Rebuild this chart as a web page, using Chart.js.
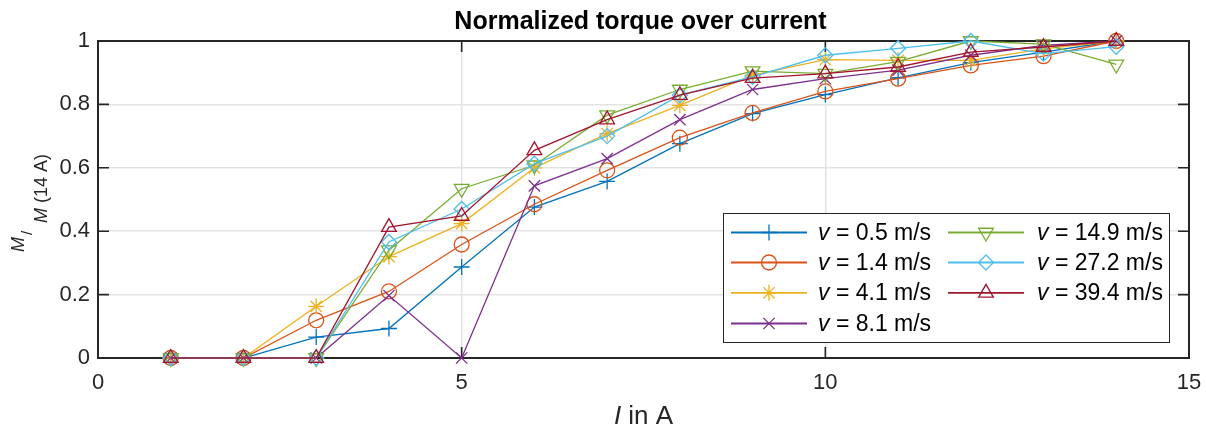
<!DOCTYPE html>
<html>
<head>
<meta charset="utf-8">
<title>Normalized torque over current</title>
<script src="https://cdn.jsdelivr.net/npm/chart.js@4.4.0/dist/chart.umd.min.js"></script>
<style>
  html, body { margin: 0; padding: 0; background: #fff; }
  #wrap { width: 1206px; height: 426px; }
</style>
</head>
<body>
<div id="wrap"><canvas id="torque-chart" width="1206" height="426"></canvas></div>
<script>
// current steps (A)
const currents = [1, 2, 3, 4, 5, 6, 7, 8, 9, 10, 11, 12, 13, 14];

// normalized torque M_I / M(14 A) per wind speed
const torqueV05 = [0, 0, 0.066, 0.093, 0.287, 0.476, 0.557, 0.676, 0.771, 0.831, 0.884, 0.932, 0.965, 1];
const torqueV14 = [0, 0, 0.119, 0.21, 0.358, 0.485, 0.592, 0.695, 0.773, 0.841, 0.881, 0.923, 0.952, 1];
const torqueV41 = [0, 0, 0.163, 0.32, 0.424, 0.6, 0.708, 0.797, 0.892, 0.941, 0.939, 0.939, 0.975, 1];
const torqueV81 = [0, 0, 0, 0.197, 0, 0.543, 0.629, 0.752, 0.847, 0.881, 0.908, 0.955, 0.986, 1];
const torqueV149 = [0, 0, 0, 0.34, 0.534, 0.608, 0.766, 0.847, 0.905, 0.897, 0.935, 1.0, 0.99, 0.926];
const torqueV272 = [0, 0, 0, 0.366, 0.47, 0.613, 0.7, 0.829, 0.887, 0.955, 0.977, 1.0, 0.96, 0.982];
const torqueV394 = [0, 0, 0, 0.413, 0.448, 0.655, 0.752, 0.829, 0.883, 0.897, 0.918, 0.965, 0.981, 1];

const speedLabels = ['0.5', '1.4', '4.1', '8.1', '14.9', '27.2', '39.4'];
const xTicks = [0, 5, 10, 15];
const yTicks = [0, 0.2, 0.4, 0.6, 0.8, 1];

// MATLAB default line colors and markers
const seriesColors = ['#0072BD', '#D95319', '#EDB120', '#7E2F8E', '#77AC30', '#4DBEEE', '#A2142F'];
const seriesMarkers = ['cross', 'circle', 'star', 'crossRot', 'triangle', 'rectRot', 'triangle'];
const markerRadius = [8, 7.5, 8, 8, 8.5, 7.5, 8.5];
const markerRotation = [0, 0, 0, 0, 180, 0, 0];

const allSeries = [torqueV05, torqueV14, torqueV41, torqueV81, torqueV149, torqueV272, torqueV394];

const FONT = '"Liberation Sans", Arial, Helvetica, sans-serif';
const AXIS_COLOR = '#262626';

const datasets = allSeries.map((values, i) => ({
  label: 'v = ' + speedLabels[i] + ' m/s',
  data: currents.map((c, k) => ({ x: c, y: values[k] })),
  borderColor: seriesColors[i],
  borderWidth: 1.3,
  pointStyle: seriesMarkers[i],
  pointRadius: markerRadius[i],
  pointRotation: markerRotation[i],
  pointBorderColor: seriesColors[i],
  pointBackgroundColor: 'rgba(0,0,0,0)',
  pointBorderWidth: 1.3,
  tension: 0,
  clip: false,
  order: allSeries.length - i // last series on top, like MATLAB
}));

// axes box with inward ticks on all four sides
const framePlugin = {
  id: 'frame',
  beforeDatasetsDraw(chart) {
    const { ctx, chartArea: a, scales } = chart;
    ctx.save();
    ctx.strokeStyle = AXIS_COLOR;
    ctx.lineWidth = 1.6;
    const tick = 11;
    ctx.beginPath();
    xTicks.forEach(v => {
      const px = scales.x.getPixelForValue(v);
      ctx.moveTo(px, a.bottom); ctx.lineTo(px, a.bottom - tick);
      ctx.moveTo(px, a.top); ctx.lineTo(px, a.top + tick);
    });
    yTicks.forEach(v => {
      const py = scales.y.getPixelForValue(v);
      ctx.moveTo(a.left, py); ctx.lineTo(a.left + tick, py);
      ctx.moveTo(a.right, py); ctx.lineTo(a.right - tick, py);
    });
    ctx.stroke();
    ctx.lineWidth = 2;
    ctx.strokeRect(a.left, a.top, a.right - a.left, a.bottom - a.top);
    ctx.restore();
  }
};

// titles and axis labels
const labelsPlugin = {
  id: 'labels',
  afterDraw(chart) {
    const { ctx, chartArea: a } = chart;
    const cx = (a.left + a.right) / 2;
    ctx.save();
    ctx.fillStyle = '#000';
    ctx.textBaseline = 'alphabetic';

    // title
    ctx.font = 'bold 25px ' + FONT;
    ctx.textAlign = 'center';
    ctx.fillText('Normalized torque over current', cx - 3, 29);

    // x label: "I in A" with italic I
    ctx.fillStyle = AXIS_COLOR;
    ctx.textAlign = 'left';
    ctx.font = 'italic 26px ' + FONT;
    const wI = ctx.measureText('I').width;
    ctx.font = '26px ' + FONT;
    const wRest = ctx.measureText(' in A').width;
    const x0 = cx - (wI + wRest) / 2;
    ctx.font = 'italic 26px ' + FONT;
    ctx.fillText('I', x0, 424);
    ctx.font = '26px ' + FONT;
    ctx.fillText(' in A', x0 + wI, 424);

    // y label: M_I / M (14 A), rotated; u = -screenY, v = screenX
    ctx.rotate(-Math.PI / 2);
    ctx.font = 'italic 18px ' + FONT;
    ctx.fillText('M', -252, 24);
    ctx.font = '15px ' + FONT;
    ctx.fillText('/', -235, 32);
    ctx.font = 'italic 18px ' + FONT;
    ctx.fillText('M', -223, 47);
    const wM = ctx.measureText('M').width;
    ctx.font = '18px ' + FONT;
    ctx.fillText(' (14 A)', -223 + wM, 47);
    ctx.restore();
  }
};

// two-column legend box inside the axes
const legendPlugin = {
  id: 'boxLegend',
  afterDatasetsDraw(chart) {
    const { ctx } = chart;
    const box = { left: 723.5, top: 213.5, right: 1169.5, bottom: 342.5 };
    const rowY = [232.5, 262.5, 292.8, 323.5];
    const cols = [
      { x1: 731, x2: 807, text: 818 },
      { x1: 948, x2: 1024, text: 1037 }
    ];
    ctx.save();
    ctx.fillStyle = '#fff';
    ctx.fillRect(box.left, box.top, box.right - box.left, box.bottom - box.top);
    ctx.strokeStyle = AXIS_COLOR;
    ctx.lineWidth = 1;
    ctx.strokeRect(box.left, box.top, box.right - box.left, box.bottom - box.top);

    datasets.forEach((ds, i) => {
      const col = cols[i < 4 ? 0 : 1];
      const y = rowY[i < 4 ? i : i - 4];
      ctx.strokeStyle = ds.borderColor;
      ctx.lineWidth = 1.8;
      ctx.beginPath();
      ctx.moveTo(col.x1, y);
      ctx.lineTo(col.x2, y);
      ctx.stroke();
      ctx.lineWidth = 1.3;
      ctx.fillStyle = 'rgba(0,0,0,0)';
      Chart.helpers.drawPoint(ctx, {
        pointStyle: ds.pointStyle,
        radius: ds.pointRadius,
        rotation: ds.pointRotation,
        borderWidth: 1.3
      }, (col.x1 + col.x2) / 2, y);

      ctx.fillStyle = '#000';
      ctx.textBaseline = 'middle';
      ctx.textAlign = 'left';
      ctx.font = 'italic 23px ' + FONT;
      ctx.fillText('v', col.text, y + 1);
      const wv = ctx.measureText('v').width;
      ctx.font = '23px ' + FONT;
      ctx.fillText(' = ' + speedLabels[i] + ' m/s', col.text + wv, y + 1);
    });
    ctx.restore();
  }
};

new Chart(document.getElementById('torque-chart'), {
  type: 'line',
  data: { datasets: datasets },
  options: {
    responsive: false,
    devicePixelRatio: 1,
    animation: false,
    events: [],
    layout: { padding: { top: 41, right: 17, left: 0, bottom: 0 } },
    plugins: {
      legend: { display: false },
      title: { display: false },
      tooltip: { enabled: false }
    },
    scales: {
      x: {
        type: 'linear',
        min: 0,
        max: 15,
        afterFit(scale) {
          scale.height = 68;
          scale.paddingLeft = 0;
          scale.paddingRight = 0;
        },
        afterBuildTicks(scale) { scale.ticks = xTicks.map(v => ({ value: v })); },
        grid: { color: '#e3e3e3', lineWidth: 1.5, drawTicks: false },
        border: { display: false },
        ticks: {
          color: AXIS_COLOR,
          font: { family: FONT, size: 22 },
          padding: 12,
          maxRotation: 0,
          callback: v => String(v)
        }
      },
      y: {
        type: 'linear',
        min: 0,
        max: 1,
        afterFit(scale) {
          scale.width = 98;
          scale.paddingTop = 0;
          scale.paddingBottom = 0;
        },
        afterBuildTicks(scale) { scale.ticks = yTicks.map(v => ({ value: v })); },
        grid: { color: '#e3e3e3', lineWidth: 1.5, drawTicks: false },
        border: { display: false },
        ticks: {
          color: AXIS_COLOR,
          font: { family: FONT, size: 22 },
          padding: 8,
          callback: v => String(Math.round(v * 10) / 10)
        }
      }
    }
  },
  plugins: [framePlugin, legendPlugin, labelsPlugin]
});
</script>
</body>
</html>
